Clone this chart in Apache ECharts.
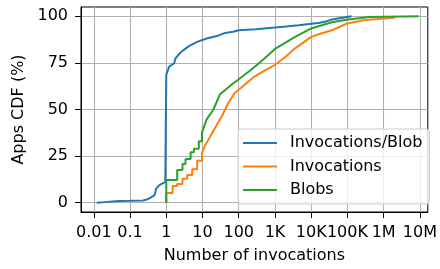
<!DOCTYPE html>
<html>
<head>
<meta charset="utf-8">
<script src="https://cdn.jsdelivr.net/npm/echarts@6/dist/echarts.min.js"></script>
<style>
  html, body { margin: 0; padding: 0; background: #fff; }
  #main { width: 440px; height: 269px; }
</style>
</head>
<body>
<div id="main"></div>
<script>
// values (x = number of invocations, y = CDF %)
const blobRatioX = [0.012, 0.02, 0.048, 0.1, 0.23, 0.3, 0.35, 0.47, 0.5, 0.52, 0.6, 0.72, 0.94, 1, 1, 1.2, 1.65, 1.8, 2.5, 4.2, 7.1, 13, 25, 42, 70, 100, 300, 1000, 2000, 4500, 10000, 16000, 27000, 37000, 60000, 130000];
const blobRatioY = [0, 0.3, 0.9, 1.0, 1.2, 1.8, 2.5, 3.9, 5.5, 7.4, 8.8, 10, 11, 11, 68.6, 73, 74.8, 77.5, 80.7, 84, 86.3, 88.1, 89.4, 91.1, 91.7, 92.5, 93, 94, 94.5, 95.2, 96, 96.4, 97.4, 98.3, 99, 100];

const invocX = [1, 1, 1.5, 1.5, 2, 2, 2.8, 2.8, 3.8, 3.8, 5.2, 5.2, 7.1, 7.1, 9.7, 9.7, 12, 18, 34, 52, 78, 146, 270, 560, 1000, 2000, 3600, 10000, 16000, 37000, 94000, 270000, 2100000];
const invocY = [0, 5.2, 5.2, 8.9, 8.9, 10, 10, 12.8, 12.8, 14.9, 14.9, 18, 18, 22.5, 22.5, 27, 31, 37, 46.4, 53.6, 58.9, 63.3, 67.7, 71.3, 74, 78.4, 82.8, 89, 90.4, 92.5, 96, 97.9, 99.3];

const blobsX = [1, 1, 2, 2, 2.8, 2.8, 3.4, 3.4, 4.7, 4.7, 5.8, 5.8, 7.9, 7.9, 9.7, 9.7, 13, 20, 30, 63, 96, 220, 460, 1000, 3600, 10000, 37000, 94000, 400000, 9300000];
const blobsY = [0, 12.2, 12.2, 17.5, 17.5, 20.7, 20.7, 23.4, 23.4, 27, 27, 29, 29, 33, 33, 37.7, 44.7, 50, 58, 63.3, 66, 71.3, 76.6, 82.5, 89, 93.5, 96.8, 98.2, 99.6, 100];

const xTickExp = [-2, -1, 0, 1, 2, 3, 4, 5, 6, 7];
const xTickText = ["0.01", "0.1", "1", "10", "100", "1K", "10K", "100K", "1M", "10M"];
const yTicks = [0, 25, 50, 75, 100];

function toPoints(xs, ys) {
  return xs.map((x, i) => [Math.log10(x), ys[i]]);
}

const font = "DejaVu Sans";
const chart = echarts.init(document.getElementById("main"), null, { renderer: "canvas" });

chart.setOption({
  animation: false,
  textStyle: { fontFamily: font },
  grid: {
    left: 81, right: 7, top: 7, bottom: 56,
    show: true, borderColor: "#000", borderWidth: 1
  },
  xAxis: {
    type: "value",
    min: -2.353,
    max: 7.2175,
    name: "Number of invocations",
    nameLocation: "middle",
    nameGap: 36,
    nameTextStyle: { fontFamily: font, fontSize: 16, color: "#000" },
    axisLine: { show: true, onZero: false, lineStyle: { color: "#000", width: 1 } },
    axisTick: { show: true, length: 6, customValues: xTickExp, lineStyle: { color: "#000", width: 1 } },
    axisLabel: {
      customValues: xTickExp,
      margin: 13,
      fontFamily: font, fontSize: 16, color: "#000",
      formatter: v => xTickText[xTickExp.indexOf(Math.round(v))]
    },
    splitLine: { show: true, lineStyle: { color: "#b0b0b0", width: 1.1 } }
  },
  yAxis: {
    type: "value",
    min: -5,
    max: 105,
    name: "Apps CDF (%)",
    nameLocation: "middle",
    nameGap: 54,
    nameTextStyle: { fontFamily: font, fontSize: 16, color: "#000" },
    axisLine: { show: true, onZero: false, lineStyle: { color: "#000", width: 1 } },
    axisTick: { show: true, length: 6, customValues: yTicks, lineStyle: { color: "#000", width: 1 } },
    axisLabel: { customValues: yTicks, margin: 13, fontFamily: font, fontSize: 16, color: "#000" },
    splitLine: { show: true, lineStyle: { color: "#b0b0b0", width: 1.1 } }
  },
  legend: {
    orient: "vertical",
    left: 238,
    top: 129,
    padding: [5, 7, 5, 5],
    itemWidth: 34,
    itemHeight: 2,
    itemGap: 5.5,
    icon: "rect",
    backgroundColor: "rgba(255,255,255,0.8)",
    borderColor: "#cccccc",
    borderWidth: 1,
    borderRadius: 3,
    textStyle: { fontFamily: font, fontSize: 16, color: "#000", lineHeight: 18, padding: [0, 0, 0, 8] },
    data: ["Invocations/Blob", "Invocations", "Blobs"]
  },
  series: [
    {
      name: "Invocations/Blob", type: "line", showSymbol: false,
      color: "#1f77b4", lineStyle: { width: 2 },
      data: toPoints(blobRatioX, blobRatioY)
    },
    {
      name: "Invocations", type: "line", showSymbol: false,
      color: "#ff7f0e", lineStyle: { width: 2 },
      data: toPoints(invocX, invocY)
    },
    {
      name: "Blobs", type: "line", showSymbol: false,
      color: "#2ca02c", lineStyle: { width: 2 },
      data: toPoints(blobsX, blobsY)
    }
  ]
});
</script>
</body>
</html>
